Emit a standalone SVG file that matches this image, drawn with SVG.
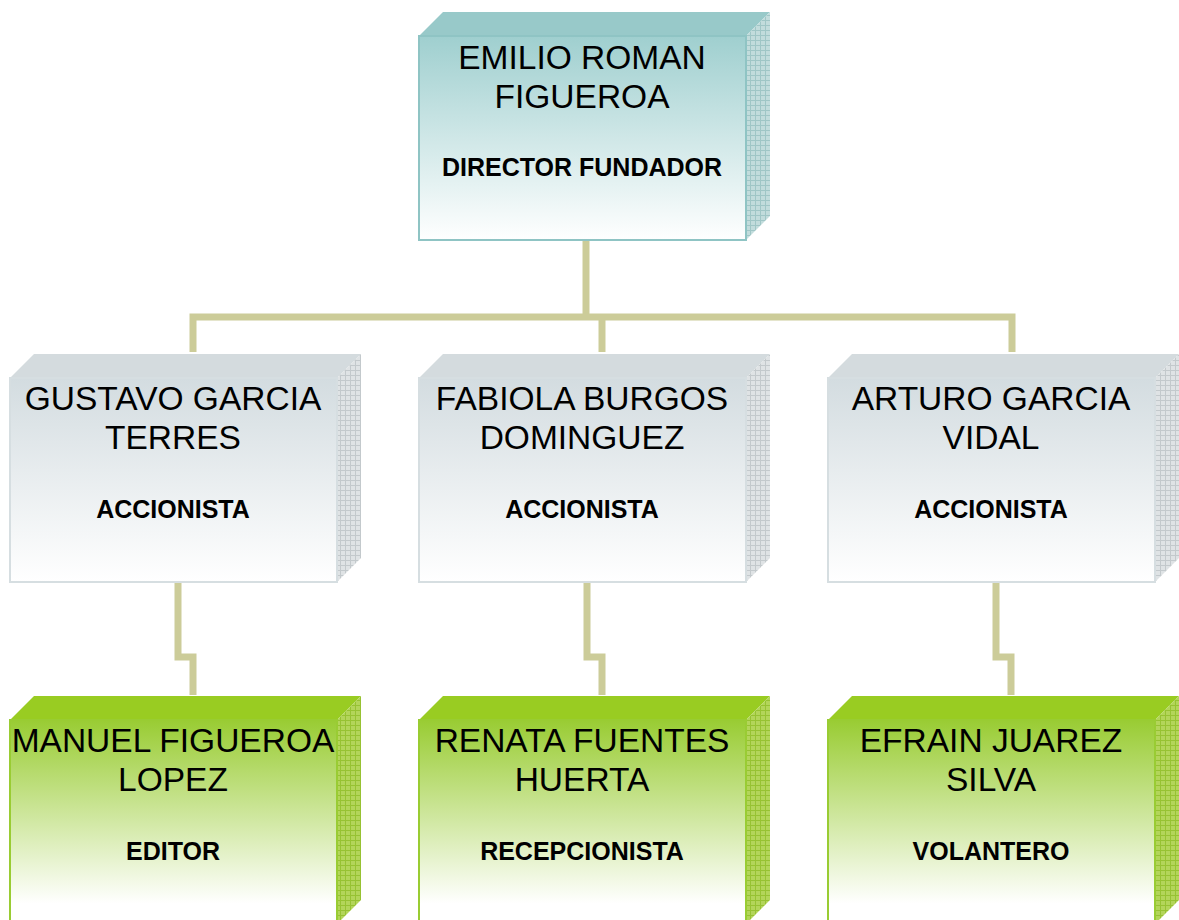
<svg xmlns="http://www.w3.org/2000/svg" width="1179" height="920" viewBox="0 0 1179 920">
<defs>
<style>
.name{font-family:"Liberation Sans",Arial,sans-serif;font-size:33.5px;fill:#000;text-anchor:middle}
.role{font-family:"Liberation Sans",Arial,sans-serif;font-size:25px;font-weight:bold;fill:#000;text-anchor:middle}
.conn{fill:none;stroke:#cccc99;stroke-width:7;stroke-linejoin:miter}
</style>
<linearGradient id="gTeal" x1="0" y1="0" x2="0" y2="1">
<stop offset="0" stop-color="#9fcfcf"/><stop offset="1" stop-color="#ffffff"/>
</linearGradient>
<linearGradient id="gGray" x1="0" y1="0" x2="0" y2="1">
<stop offset="0" stop-color="#d3dce0"/><stop offset="1" stop-color="#ffffff"/>
</linearGradient>
<linearGradient id="gGreen" x1="0" y1="0" x2="0" y2="1">
<stop offset="0" stop-color="#99cc33"/><stop offset="0.9" stop-color="#ffffff"/>
</linearGradient>
<pattern id="mTeal" width="5" height="5" patternUnits="userSpaceOnUse">
<rect width="5" height="5" fill="#c2dcdc"/><path d="M0 0.5H5M0.5 0V5" stroke="#a0c6c6" stroke-width="1"/>
</pattern>
<pattern id="mGray" width="5" height="5" patternUnits="userSpaceOnUse">
<rect width="5" height="5" fill="#dfe3e5"/><path d="M0 0.5H5M0.5 0V5" stroke="#c3c9cc" stroke-width="1"/>
</pattern>
<pattern id="mGreen" width="5" height="5" patternUnits="userSpaceOnUse">
<rect width="5" height="5" fill="#b3d55a"/><path d="M0 0.5H5M0.5 0V5" stroke="#97c233" stroke-width="1"/>
</pattern>
</defs>
<rect width="1179" height="920" fill="#ffffff"/>
<g id="connectors">
<path class="conn" d="M586 240V317"/>
<path class="conn" d="M193 352V317H1012V352"/>
<path class="conn" d="M602 317V352"/>
<path class="conn" d="M178 581V657H193V695"/>
<path class="conn" d="M587 581V657H602V695"/>
<path class="conn" d="M996 581V657H1011V695"/>
</g>
<g id="node-emilio">
<polygon points="419,36 443,12 770,12 746,36" fill="#98c9c9"/>
<polygon points="746,36 770,12 770,216 746,240" fill="url(#mTeal)"/>
<rect x="419" y="36" width="327" height="204" fill="url(#gTeal)" stroke="#8fc4c4" stroke-width="2"/>
<text class="name" x="582" y="69">EMILIO ROMAN</text>
<text class="name" x="582" y="108">FIGUEROA</text>
<text class="role" x="582" y="176">DIRECTOR FUNDADOR</text>
</g>
<g id="node-gustavo">
<polygon points="10,378 34,354 361,354 337,378" fill="#d4dbde"/>
<polygon points="337,378 361,354 361,558 337,582" fill="url(#mGray)"/>
<rect x="10" y="378" width="327" height="204" fill="url(#gGray)" stroke="#d6dee1" stroke-width="2"/>
<text class="name" x="173" y="410">GUSTAVO GARCIA</text>
<text class="name" x="173" y="449">TERRES</text>
<text class="role" x="173" y="518">ACCIONISTA</text>
</g>
<g id="node-fabiola">
<polygon points="419,378 443,354 770,354 746,378" fill="#d4dbde"/>
<polygon points="746,378 770,354 770,558 746,582" fill="url(#mGray)"/>
<rect x="419" y="378" width="327" height="204" fill="url(#gGray)" stroke="#d6dee1" stroke-width="2"/>
<text class="name" x="582" y="410">FABIOLA BURGOS</text>
<text class="name" x="582" y="449">DOMINGUEZ</text>
<text class="role" x="582" y="518">ACCIONISTA</text>
</g>
<g id="node-arturo">
<polygon points="828,378 852,354 1179,354 1155,378" fill="#d4dbde"/>
<polygon points="1155,378 1179,354 1179,558 1155,582" fill="url(#mGray)"/>
<rect x="828" y="378" width="327" height="204" fill="url(#gGray)" stroke="#d6dee1" stroke-width="2"/>
<text class="name" x="991" y="410">ARTURO GARCIA</text>
<text class="name" x="991" y="449">VIDAL</text>
<text class="role" x="991" y="518">ACCIONISTA</text>
</g>
<g id="node-manuel">
<polygon points="10,720 34,696 361,696 337,720" fill="#99cc22"/>
<polygon points="337,720 361,696 361,900 337,924" fill="url(#mGreen)"/>
<rect x="10" y="720" width="327" height="204" fill="url(#gGreen)" stroke="#99cc33" stroke-width="2"/>
<text class="name" x="173" y="752">MANUEL FIGUEROA</text>
<text class="name" x="173" y="791">LOPEZ</text>
<text class="role" x="173" y="860">EDITOR</text>
</g>
<g id="node-renata">
<polygon points="419,720 443,696 770,696 746,720" fill="#99cc22"/>
<polygon points="746,720 770,696 770,900 746,924" fill="url(#mGreen)"/>
<rect x="419" y="720" width="327" height="204" fill="url(#gGreen)" stroke="#99cc33" stroke-width="2"/>
<text class="name" x="582" y="752">RENATA FUENTES</text>
<text class="name" x="582" y="791">HUERTA</text>
<text class="role" x="582" y="860">RECEPCIONISTA</text>
</g>
<g id="node-efrain">
<polygon points="828,720 852,696 1179,696 1155,720" fill="#99cc22"/>
<polygon points="1155,720 1179,696 1179,900 1155,924" fill="url(#mGreen)"/>
<rect x="828" y="720" width="327" height="204" fill="url(#gGreen)" stroke="#99cc33" stroke-width="2"/>
<text class="name" x="991" y="752">EFRAIN JUAREZ</text>
<text class="name" x="991" y="791">SILVA</text>
<text class="role" x="991" y="860">VOLANTERO</text>
</g>
</svg>
